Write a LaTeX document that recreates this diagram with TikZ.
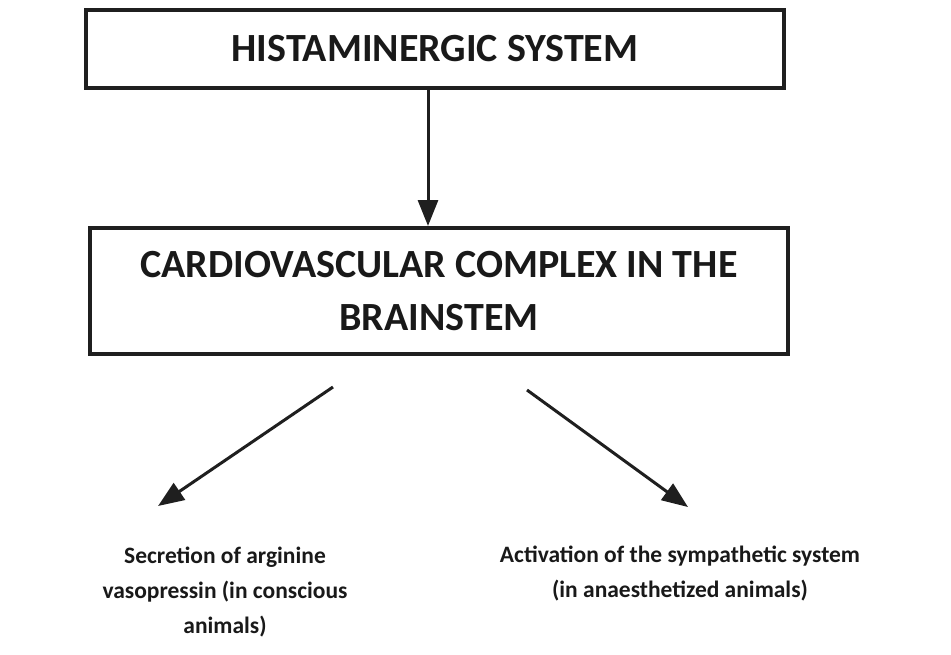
\documentclass[tikz,border=0pt]{standalone}
\usepackage{fontspec}
\setmainfont{Carlito}
\usepackage{tikz}
\usetikzlibrary{arrows.meta}

\begin{document}
\begin{tikzpicture}
		[x=1pt, y=-1pt,
		box/.style={rectangle, draw=black!88, text=black!90, line width=4pt, minimum width=698pt, font=\bfseries\fontsize{40}{53}\selectfont, align=center, inner sep=0pt},
		effect/.style={align=center, text=black!90, font=\bfseries\fontsize{23.5}{35}\selectfont, inner sep=0pt},
		arr/.style={draw=black!88, line width=3pt, -{Triangle[length=26pt, width=20pt]}}]
		\useasboundingbox (0,0) rectangle (951,654);
		\node[box, minimum height=78pt] (hist) at (435,49) {HISTAMINERGIC SYSTEM};
		\node[box, minimum height=126pt] (cardio) at (439,291) {CARDIOVASCULAR COMPLEX IN THE\\BRAINSTEM};
		\node[effect] (avp) at (225,592) {Secretion of arginine\\vasopressin (in conscious\\animals)};
		\node[effect] (symp) at (680,574) {Activation of the sympathetic system\\(in anaesthetized animals)};
		\coordinate (lfrom) at (333,387);
		\coordinate (lto) at (158,506);
		\coordinate (rfrom) at (527,390);
		\coordinate (rto) at (688,507);

		\draw[arr] ([xshift=-7pt]hist.south) -- ([xshift=-7pt]hist.south |- cardio.north);
		\draw[arr] (lfrom) -- (lto);
		\draw[arr] (rfrom) -- (rto);
	\end{tikzpicture}
\end{document}
